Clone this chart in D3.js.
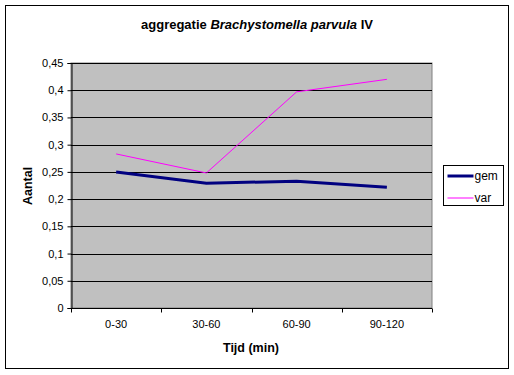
<!DOCTYPE html>
<html>
<head>
<meta charset="utf-8">
<script src="https://cdn.jsdelivr.net/npm/d3@7"></script>
<style>
  body { margin: 0; background: #fff; }
  svg { display: block; font-family: "Liberation Sans", Arial, sans-serif; }
</style>
</head>
<body>
<svg id="chart" width="514" height="375"></svg>
<script>
const categories = ['0-30', '30-60', '60-90', '90-120'];
const gemValues = [0.25, 0.229, 0.233, 0.222];
const varValues = [0.283, 0.248, 0.397, 0.42];
const yTicks = [0, 0.05, 0.1, 0.15, 0.2, 0.25, 0.3, 0.35, 0.4, 0.45];

const PLOT = { left: 71, top: 63, right: 432, bottom: 308 };

const svg = d3.select('#chart');

// outer frame
svg.append('rect')
  .attr('x', 5.5).attr('y', 5.5)
  .attr('width', 503).attr('height', 363)
  .attr('fill', '#fff').attr('stroke', '#000');

const x = d3.scaleBand()
  .domain(categories)
  .range([PLOT.left, PLOT.right]);

const y = d3.scaleLinear()
  .domain([0, 0.45])
  .range([PLOT.bottom, PLOT.top]);

svg.append('rect')
  .attr('x', PLOT.left).attr('y', PLOT.top)
  .attr('width', PLOT.right - PLOT.left).attr('height', PLOT.bottom - PLOT.top)
  .attr('fill', '#c0c0c0').attr('stroke', '#808080');

// grid
svg.append('g')
  .selectAll('line')
  .data(yTicks.slice(1))
  .join('line')
  .attr('x1', PLOT.left).attr('x2', PLOT.right)
  .attr('y1', d => Math.round(y(d)) + 0.5).attr('y2', d => Math.round(y(d)) + 0.5)
  .attr('stroke', '#000');

const fmt = d => String(+d.toFixed(2)).replace('.', ',');

const yAxis = svg.append('g')
  .attr('transform', `translate(${PLOT.left + 0.5},0)`)
  .call(d3.axisLeft(y).tickValues(yTicks).tickFormat(fmt).tickSize(4).tickPadding(4));

const xAxis = svg.append('g')
  .attr('transform', `translate(0,${PLOT.bottom + 0.5})`)
  .call(d3.axisBottom(x).tickSize(0).tickPadding(12));

// category separators on x axis
xAxis.selectAll('.sep')
  .data(categories.concat(['end']))
  .join('line')
  .attr('class', 'sep')
  .attr('x1', (d, i) => Math.round(PLOT.left + i * x.bandwidth()) + 0.5)
  .attr('x2', (d, i) => Math.round(PLOT.left + i * x.bandwidth()) + 0.5)
  .attr('y1', 0).attr('y2', 4)
  .attr('stroke', '#000');

[yAxis, xAxis].forEach(a => {
  a.select('.domain').attr('stroke', '#000');
  a.selectAll('.tick line').attr('stroke', '#000');
  a.selectAll('.tick text').attr('fill', '#000').attr('font-size', 11)
    .attr('font-family', '"Liberation Sans", Arial, sans-serif');
});
xAxis.select('.domain').attr('d', `M${PLOT.left},0H${PLOT.right}`);

const line = d3.line()
  .x((d, i) => x(categories[i]) + x.bandwidth() / 2)
  .y(d => y(d));

svg.append('path')
  .datum(gemValues)
  .attr('d', line)
  .attr('fill', 'none')
  .attr('stroke', '#000080')
  .attr('stroke-width', 3);

svg.append('path')
  .datum(varValues)
  .attr('d', line)
  .attr('fill', 'none')
  .attr('stroke', '#ff00ff')
  .attr('stroke-width', 1);

// title
const title = svg.append('text')
  .attr('x', 257).attr('y', 29)
  .attr('text-anchor', 'middle')
  .attr('font-size', 13).attr('font-weight', 'bold');
title.append('tspan').text('aggregatie ');
title.append('tspan').attr('font-style', 'italic').text('Brachystomella parvula');
title.append('tspan').text(' IV');

svg.append('text')
  .attr('transform', 'translate(32,186) rotate(-90)')
  .attr('text-anchor', 'middle')
  .attr('font-size', 12.5).attr('font-weight', 'bold')
  .text('Aantal');

svg.append('text')
  .attr('x', 251).attr('y', 352)
  .attr('text-anchor', 'middle')
  .attr('font-size', 12.5).attr('font-weight', 'bold')
  .text('Tijd (min)');

// legend
const legend = svg.append('g').attr('transform', 'translate(443.5,165.5)');
legend.append('rect')
  .attr('width', 60).attr('height', 40)
  .attr('fill', '#fff').attr('stroke', '#000');
const legendItems = [
  { name: 'gem', color: '#000080', width: 3 },
  { name: 'var', color: '#ff00ff', width: 1 }
];
legendItems.forEach((d, i) => {
  const yy = 10.5 + i * 22;
  legend.append('line')
    .attr('x1', 4).attr('x2', 30)
    .attr('y1', yy).attr('y2', yy)
    .attr('stroke', d.color).attr('stroke-width', d.width);
  legend.append('text')
    .attr('x', 31).attr('y', yy + 4)
    .attr('font-size', 12)
    .text(d.name);
});
</script>
</body>
</html>
